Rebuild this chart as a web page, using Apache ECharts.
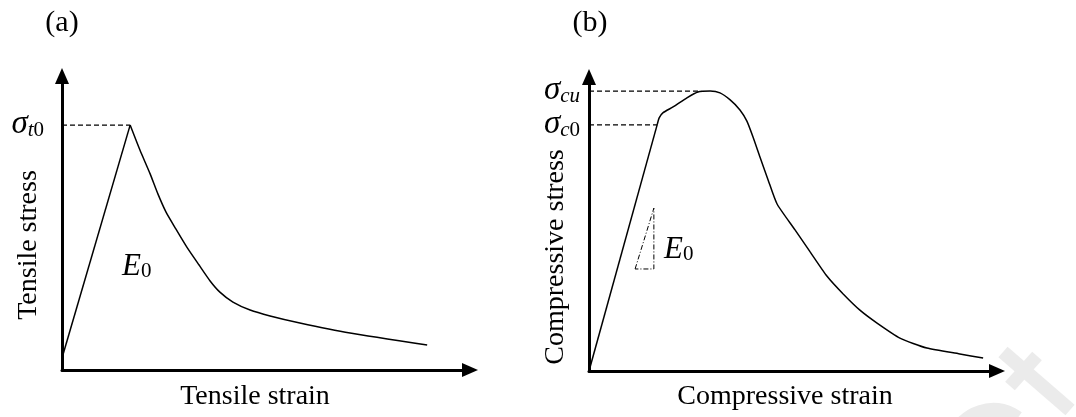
<!DOCTYPE html>
<html><head><meta charset="utf-8">
<script src="https://cdn.jsdelivr.net/npm/echarts@6/dist/echarts.min.js"></script>
<style>html,body{margin:0;padding:0;background:#fff}#c{width:1076px;height:417px}</style>
</head><body><div id="c"></div>
<script>
// (a) tensile curve, normalized units (0-100 on both axes)
const tensileStrain = [0, 16.7, 19.1, 21.6, 23.5, 25.5, 27.9, 30.6, 33.6, 36.3, 38.7, 41.9, 46.1, 51.0, 58.3, 70.6, 89.5];
const tensileStress = [4.1, 83.3, 74.8, 66.7, 59.9, 53.7, 48.0, 41.8, 35.7, 30.3, 26.5, 23.1, 20.4, 18.4, 16.0, 12.6, 8.5];
const tensilePeakIndex = 1;

// (b) compressive curve
const compStrain = [0, 16.7, 17.2, 18.1, 20.6, 24.0, 26.7, 29.7, 32.1, 34.6, 37.0, 38.7, 40.2, 41.9, 43.9, 46.1, 50.5, 54.2, 58.3, 62.3, 66.4, 70.6, 76.2, 82.8, 90.9, 96.6];
const compStress = [0, 83.7, 86.1, 87.8, 89.8, 92.9, 94.9, 95.2, 94.6, 92.2, 88.8, 85.0, 79.6, 72.8, 65.0, 56.8, 48.0, 40.5, 32.3, 26.2, 20.7, 16.3, 11.2, 7.8, 5.8, 4.4];
const compYieldIndex = 1;   // sigma_c0
const compPeakIndex = 7;    // sigma_cu
const compPeakDashEnd = 27.5;

// E0 slope triangle in (b)
const slopeTriX = [11.3, 15.9, 15.9, 11.3];
const slopeTriY = [34.7, 55.4, 34.7, 34.7];

// texts
const panelTitles = ['(a)', '(b)'];
const xNames = ['Tensile strain', 'Compressive strain'];
const yNames = ['Tensile stress', 'Compressive stress'];

const FONT = '"Liberation Serif", "Times New Roman", serif';
const zip = (xs, ys) => xs.map((x, i) => [x, ys[i]]);

const tensilePts = zip(tensileStrain, tensileStress);
const compPts = zip(compStrain, compStress);
const tPeak = tensilePts[tensilePeakIndex];
const cYield = compPts[compYieldIndex];
const cPeak = compPts[compPeakIndex];

const richSigma = {
  s: {fontFamily: FONT, fontStyle: 'italic', fontSize: 33, color: '#000', verticalAlign: 'bottom', lineHeight: 32},
  si: {fontFamily: FONT, fontStyle: 'italic', fontSize: 21, color: '#000', verticalAlign: 'bottom', lineHeight: 28},
  sn: {fontFamily: FONT, fontSize: 21, color: '#000', verticalAlign: 'bottom', lineHeight: 28}
};

function xAxis(gi) {
  return {type: 'value', gridIndex: gi, min: 0, max: 100,
    axisLine: {show: true, onZero: false, lineStyle: {color: '#000', width: 3}, symbol: ['none', 'triangle'], symbolSize: [14, 16]},
    axisTick: {show: false}, axisLabel: {show: false}, splitLine: {show: false}};
}
function yAxis(gi, values, labels, margin) {
  return {type: 'value', gridIndex: gi, min: 0, max: 100,
    axisLine: {show: true, onZero: false, lineStyle: {color: '#000', width: 3}, symbol: ['none', 'triangle'], symbolSize: [14, 16]},
    axisTick: {show: false}, splitLine: {show: false},
    axisLabel: {show: true, customValues: values, margin: margin,
      formatter: function (v) {
        let best = 0;
        values.forEach((x, i) => { if (Math.abs(x - v) < Math.abs(values[best] - v)) best = i; });
        return labels[best];
      },
      rich: richSigma}};
}

const lineBase = {type: 'line', symbol: 'none', silent: true, animation: false};
const curveStyle = {color: '#000', width: 1.5};
const dashStyle = {color: '#000', width: 1.2, type: [5, 3]};
const e0Rich = {e: {fontFamily: FONT, fontStyle: 'italic', fontSize: 31, fill: '#000', verticalAlign: 'bottom', lineHeight: 32},
                n: {fontFamily: FONT, fontSize: 21, fill: '#000', verticalAlign: 'bottom', lineHeight: 28}};

const option = {
  backgroundColor: '#fff',
  animation: false,
  grid: [
    {left: 62, top: 76, width: 408, height: 294},
    {left: 589, top: 77, width: 408, height: 294}
  ],
  xAxis: [xAxis(0), xAxis(1)],
  yAxis: [
    yAxis(0, [tPeak[1]], ['{s|σ}{si|t}{sn|0}'], 18),
    yAxis(1, [cYield[1], cPeak[1]], ['{s|σ}{si|c}{sn|0}', '{s|σ}{si|cu}'], 9)
  ],
  series: [
    Object.assign({}, lineBase, {xAxisIndex: 0, yAxisIndex: 0, data: tensilePts.slice(0, tensilePeakIndex + 1), lineStyle: curveStyle}),
    Object.assign({}, lineBase, {xAxisIndex: 0, yAxisIndex: 0, data: tensilePts.slice(tensilePeakIndex), smooth: 0.2, lineStyle: curveStyle}),
    Object.assign({}, lineBase, {xAxisIndex: 0, yAxisIndex: 0, data: [[0, tPeak[1]], tPeak], lineStyle: dashStyle}),
    Object.assign({}, lineBase, {xAxisIndex: 1, yAxisIndex: 1, data: compPts.slice(0, compYieldIndex + 1), lineStyle: curveStyle}),
    Object.assign({}, lineBase, {xAxisIndex: 1, yAxisIndex: 1, data: compPts.slice(compYieldIndex), smooth: 0.2, lineStyle: curveStyle}),
    Object.assign({}, lineBase, {xAxisIndex: 1, yAxisIndex: 1, data: [[0, cYield[1]], cYield], lineStyle: dashStyle}),
    Object.assign({}, lineBase, {xAxisIndex: 1, yAxisIndex: 1, data: [[0, cPeak[1]], [compPeakDashEnd, cPeak[1]]], lineStyle: dashStyle}),
    Object.assign({}, lineBase, {xAxisIndex: 1, yAxisIndex: 1, data: zip(slopeTriX, slopeTriY), lineStyle: {color: '#000', width: 1, type: [5, 2, 1, 2]}})
  ],
  graphic: [
    {type: 'text', x: 62, y: 23, style: {text: panelTitles[0], font: '30px ' + FONT, fill: '#000', align: 'center', verticalAlign: 'middle'}},
    {type: 'text', x: 590, y: 23, style: {text: panelTitles[1], font: '30px ' + FONT, fill: '#000', align: 'center', verticalAlign: 'middle'}},
    {type: 'text', x: 255, y: 397, style: {text: xNames[0], font: '28px ' + FONT, fill: '#000', align: 'center', verticalAlign: 'middle'}},
    {type: 'text', x: 785, y: 397, style: {text: xNames[1], font: '28px ' + FONT, fill: '#000', align: 'center', verticalAlign: 'middle'}},
    {type: 'text', x: 29, y: 245, rotation: Math.PI / 2, style: {text: yNames[0], font: '28px ' + FONT, fill: '#000', align: 'center', verticalAlign: 'middle'}},
    {type: 'text', x: 556, y: 257, rotation: Math.PI / 2, style: {text: yNames[1], font: '28px ' + FONT, fill: '#000', align: 'center', verticalAlign: 'middle'}},
    {type: 'text', x: 122, y: 266, style: {text: '{e|E}{n|0}', align: 'left', verticalAlign: 'middle', rich: e0Rich}},
    {type: 'text', x: 664, y: 249, style: {text: '{e|E}{n|0}', align: 'left', verticalAlign: 'middle', rich: e0Rich}},
    // faint watermark
    {type: 'line', shape: {x1: 1003, y1: 352, x2: 1070, y2: 410}, style: {stroke: '#ebebeb', lineWidth: 14}, z: -1},
    {type: 'line', shape: {x1: 1037, y1: 356, x2: 1010, y2: 386}, style: {stroke: '#ebebeb', lineWidth: 13}, z: -1},
    {type: 'arc', shape: {cx: 993, cy: 452, r: 42, startAngle: -Math.PI * 0.85, endAngle: -Math.PI * 0.3}, style: {stroke: '#ebebeb', lineWidth: 14, fill: null}, z: -1}
  ]
};
const chart = echarts.init(document.getElementById('c'), null, {renderer: 'canvas'});
chart.setOption(option);
</script>
</body></html>
